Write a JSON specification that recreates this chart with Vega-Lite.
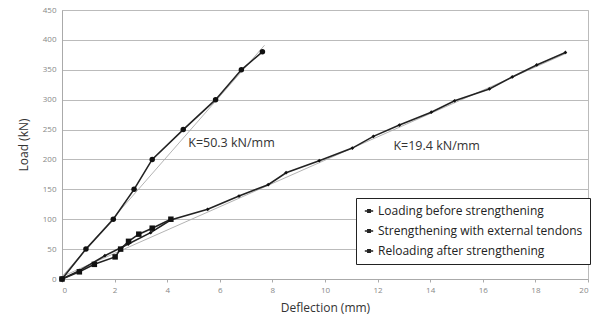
{
  "$schema": "https://vega.github.io/schema/vega-lite/v6.json",
  "autosize": "none",
  "padding": {"left": 62, "top": 10, "right": 15, "bottom": 47},
  "width": 526,
  "height": 269,
  "background": "white",
  "config": {
    "font": "Open Sans",
    "view": {"stroke": "#bbb", "strokeWidth": 1},
    "axis": {"labelFont": "Open Sans", "titleFont": "Open Sans"}
  },
  "datasets": {
    "curves": [
      {"series": "Loading before strengthening", "d": 0, "p": 0},
      {"series": "Loading before strengthening", "d": 0.66, "p": 14},
      {"series": "Loading before strengthening", "d": 1.63, "p": 39},
      {"series": "Loading before strengthening", "d": 2.52, "p": 58.5},
      {"series": "Loading before strengthening", "d": 3.37, "p": 77.5},
      {"series": "Loading before strengthening", "d": 4.13, "p": 98.7},
      {"series": "Loading before strengthening", "d": 5.54, "p": 116.5},
      {"series": "Loading before strengthening", "d": 6.73, "p": 138.8},
      {"series": "Loading before strengthening", "d": 7.84, "p": 157.7},
      {"series": "Loading before strengthening", "d": 8.52, "p": 177.8},
      {"series": "Loading before strengthening", "d": 9.78, "p": 198},
      {"series": "Loading before strengthening", "d": 11.04, "p": 219},
      {"series": "Loading before strengthening", "d": 11.84, "p": 238.6},
      {"series": "Loading before strengthening", "d": 12.83, "p": 257.5},
      {"series": "Loading before strengthening", "d": 14.04, "p": 279},
      {"series": "Loading before strengthening", "d": 14.93, "p": 298},
      {"series": "Loading before strengthening", "d": 16.25, "p": 318},
      {"series": "Loading before strengthening", "d": 17.12, "p": 338},
      {"series": "Loading before strengthening", "d": 18.05, "p": 358},
      {"series": "Loading before strengthening", "d": 19.14, "p": 379},
      {"series": "Strengthening with external tendons", "d": 0, "p": 0},
      {"series": "Strengthening with external tendons", "d": 0.66, "p": 12},
      {"series": "Strengthening with external tendons", "d": 1.23, "p": 24.5},
      {"series": "Strengthening with external tendons", "d": 2.02, "p": 37},
      {"series": "Strengthening with external tendons", "d": 2.23, "p": 50},
      {"series": "Strengthening with external tendons", "d": 2.53, "p": 63},
      {"series": "Strengthening with external tendons", "d": 2.92, "p": 75},
      {"series": "Strengthening with external tendons", "d": 3.43, "p": 85},
      {"series": "Strengthening with external tendons", "d": 4.14, "p": 100},
      {"series": "Reloading after strengthening", "d": 0, "p": 0},
      {"series": "Reloading after strengthening", "d": 0.91, "p": 50},
      {"series": "Reloading after strengthening", "d": 1.95, "p": 100},
      {"series": "Reloading after strengthening", "d": 2.74, "p": 150},
      {"series": "Reloading after strengthening", "d": 3.43, "p": 200},
      {"series": "Reloading after strengthening", "d": 4.61, "p": 250},
      {"series": "Reloading after strengthening", "d": 5.84, "p": 300},
      {"series": "Reloading after strengthening", "d": 6.82, "p": 350},
      {"series": "Reloading after strengthening", "d": 7.62, "p": 380}
    ],
    "fits": [
      {"fit": "K1", "d": 0, "p": 4},
      {"fit": "K1", "d": 7.7, "p": 391},
      {"fit": "K2", "d": 0, "p": 4},
      {"fit": "K2", "d": 19.2, "p": 378}
    ],
    "notes": [
      {"label": "K=50.3 kN/mm", "d": 4.8, "p": 227},
      {"label": "K=19.4 kN/mm", "d": 12.6, "p": 222}
    ]
  },
  "encoding": {
    "x": {
      "field": "d", "type": "quantitative",
      "scale": {"domain": [0, 20], "nice": false, "zero": true},
      "axis": {
        "title": "Deflection (mm)", "values": [0,2,4,6,8,10,12,14,16,18,20],
        "grid": false, "domainColor": "#aaa", "tickColor": "#aaa", "tickSize": 3,
        "labelColor": "#888", "labelFontSize": 8, "labelPadding": 4,
        "titleFontSize": 12, "titleFontWeight": "normal", "titleColor": "#333", "titlePadding": 8
      }
    },
    "y": {
      "field": "p", "type": "quantitative",
      "scale": {"domain": [0, 450], "nice": false},
      "axis": {
        "title": "Load (kN)", "values": [0,50,100,150,200,250,300,350,400,450],
        "grid": true, "gridColor": "#bbb", "domainColor": "#aaa", "ticks": false,
        "labelColor": "#888", "labelFontSize": 8, "labelPadding": 6,
        "titleFontSize": 12, "titleFontWeight": "normal", "titleColor": "#333", "titlePadding": 12
      }
    }
  },
  "layer": [
    {
      "data": {"name": "fits"},
      "mark": {"type": "line", "color": "#aaa", "strokeWidth": 0.9},
      "encoding": {"detail": {"field": "fit"}}
    },
    {
      "data": {"name": "curves"},
      "mark": {"type": "line", "strokeWidth": 1.6},
      "encoding": {
        "color": {
          "field": "series", "type": "nominal",
          "scale": {
            "domain": ["Loading before strengthening", "Strengthening with external tendons", "Reloading after strengthening"],
            "range": ["#222", "#222", "#222"]
          },
          "legend": {
            "title": null, "orient": "none", "legendX": 294, "legendY": 188,
            "strokeColor": "#222", "fillColor": "white", "padding": 7,
            "labelFontSize": 12, "labelColor": "#222", "labelFont": "Open Sans",
            "labelLimit": 400,
            "rowPadding": 8, "symbolSize": 70, "symbolStrokeWidth": 1.4,
            "symbolType": "M-1,0H1M-0.3,-0.3H0.3V0.3H-0.3Z",
            "symbolFillColor": "#222", "symbolStrokeColor": "#222",
            "labelOffset": 3
          }
        }
      }
    },
    {
      "data": {"name": "curves"},
      "transform": [{"filter": "datum.series === 'Loading before strengthening'"}],
      "mark": {"type": "point", "filled": true, "color": "#111", "opacity": 1, "shape": "diamond", "size": 14}
    },
    {
      "data": {"name": "curves"},
      "transform": [{"filter": "datum.series === 'Strengthening with external tendons'"}],
      "mark": {"type": "point", "filled": true, "color": "#111", "opacity": 1, "shape": "square", "size": 30}
    },
    {
      "data": {"name": "curves"},
      "transform": [{"filter": "datum.series === 'Reloading after strengthening'"}],
      "mark": {"type": "point", "filled": true, "color": "#111", "opacity": 1, "shape": "circle", "size": 30}
    },
    {
      "data": {"name": "notes"},
      "mark": {"type": "text", "align": "left", "baseline": "middle", "fontSize": 12.5, "color": "#333", "font": "Open Sans"},
      "encoding": {"text": {"field": "label"}}
    }
  ]
}
